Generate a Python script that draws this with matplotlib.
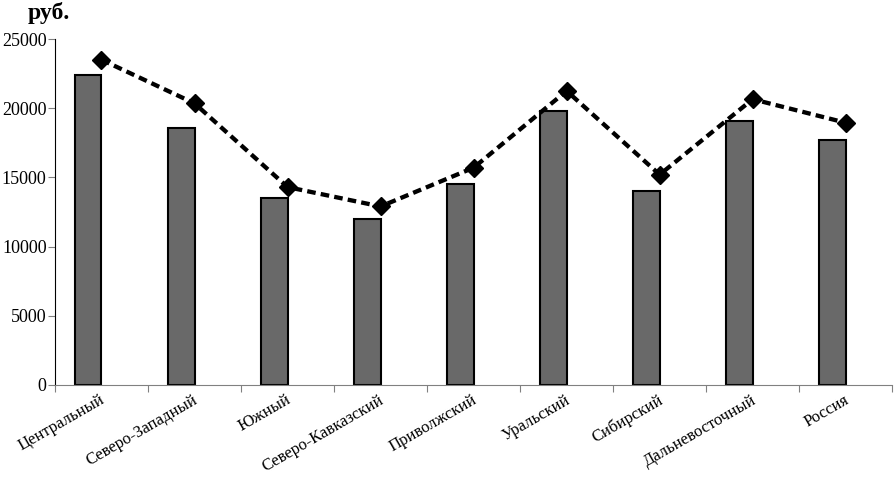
import numpy as np
import matplotlib
matplotlib.use('Agg')
import matplotlib.pyplot as plt

plt.rcParams['font.family'] = ['Liberation Serif', 'DejaVu Serif']

# --- данные ---
regions = ['Центральный', 'Северо-Западный', 'Южный', 'Северо-Кавказский',
           'Приволжский', 'Уральский', 'Сибирский', 'Дальневосточный', 'Россия']
bar_values = [22400, 18600, 13500, 12000, 14500, 19800, 14000, 19100, 17700]
line_values = [23500, 20350, 14300, 12900, 15700, 21250, 15200, 20650, 18950]
y_ticks = [0, 5000, 10000, 15000, 20000, 25000]

fig = plt.figure(figsize=(8.94, 4.78), dpi=100)
ax = fig.add_axes([0.0615, 0.1946, 0.9365, 0.7238])

x = np.arange(len(regions)) + 0.5
bar_w = 0.29
ax.bar(x - bar_w / 2, bar_values, width=bar_w, color='#696969',
       edgecolor='black', linewidth=1.5, zorder=2)
ax.plot(x, line_values, color='black', linestyle='--', dashes=(2.0, 1.2),
        linewidth=3.1, marker='D', markersize=9.5, zorder=3)

ax.set_xlim(0, len(regions))
ax.set_ylim(0, 25000)
ax.set_yticks(y_ticks)
ax.set_yticklabels([str(v) for v in y_ticks], fontsize=13)
ax.set_xticks(np.arange(len(regions) + 1))
ax.set_xticklabels([])
ax.set_xticks(x - 0.02, minor=True)
ax.set_xticklabels(regions, minor=True, rotation=30, ha='right',
                   rotation_mode='anchor', fontsize=12)
ax.tick_params(axis='x', which='minor', length=0, pad=5)
ax.tick_params(axis='x', which='major', direction='out', length=5, color='#808080')
ax.tick_params(axis='y', direction='out', length=5, color='#808080', pad=1)

ax.spines['top'].set_visible(False)
ax.spines['right'].set_visible(False)
ax.spines['left'].set_color('black')
ax.spines['bottom'].set_color('#808080')

fig.text(0.031, 0.972, 'руб.', fontsize=17, fontweight='bold', va='center')

fig.savefig('out.png', dpi=100)
